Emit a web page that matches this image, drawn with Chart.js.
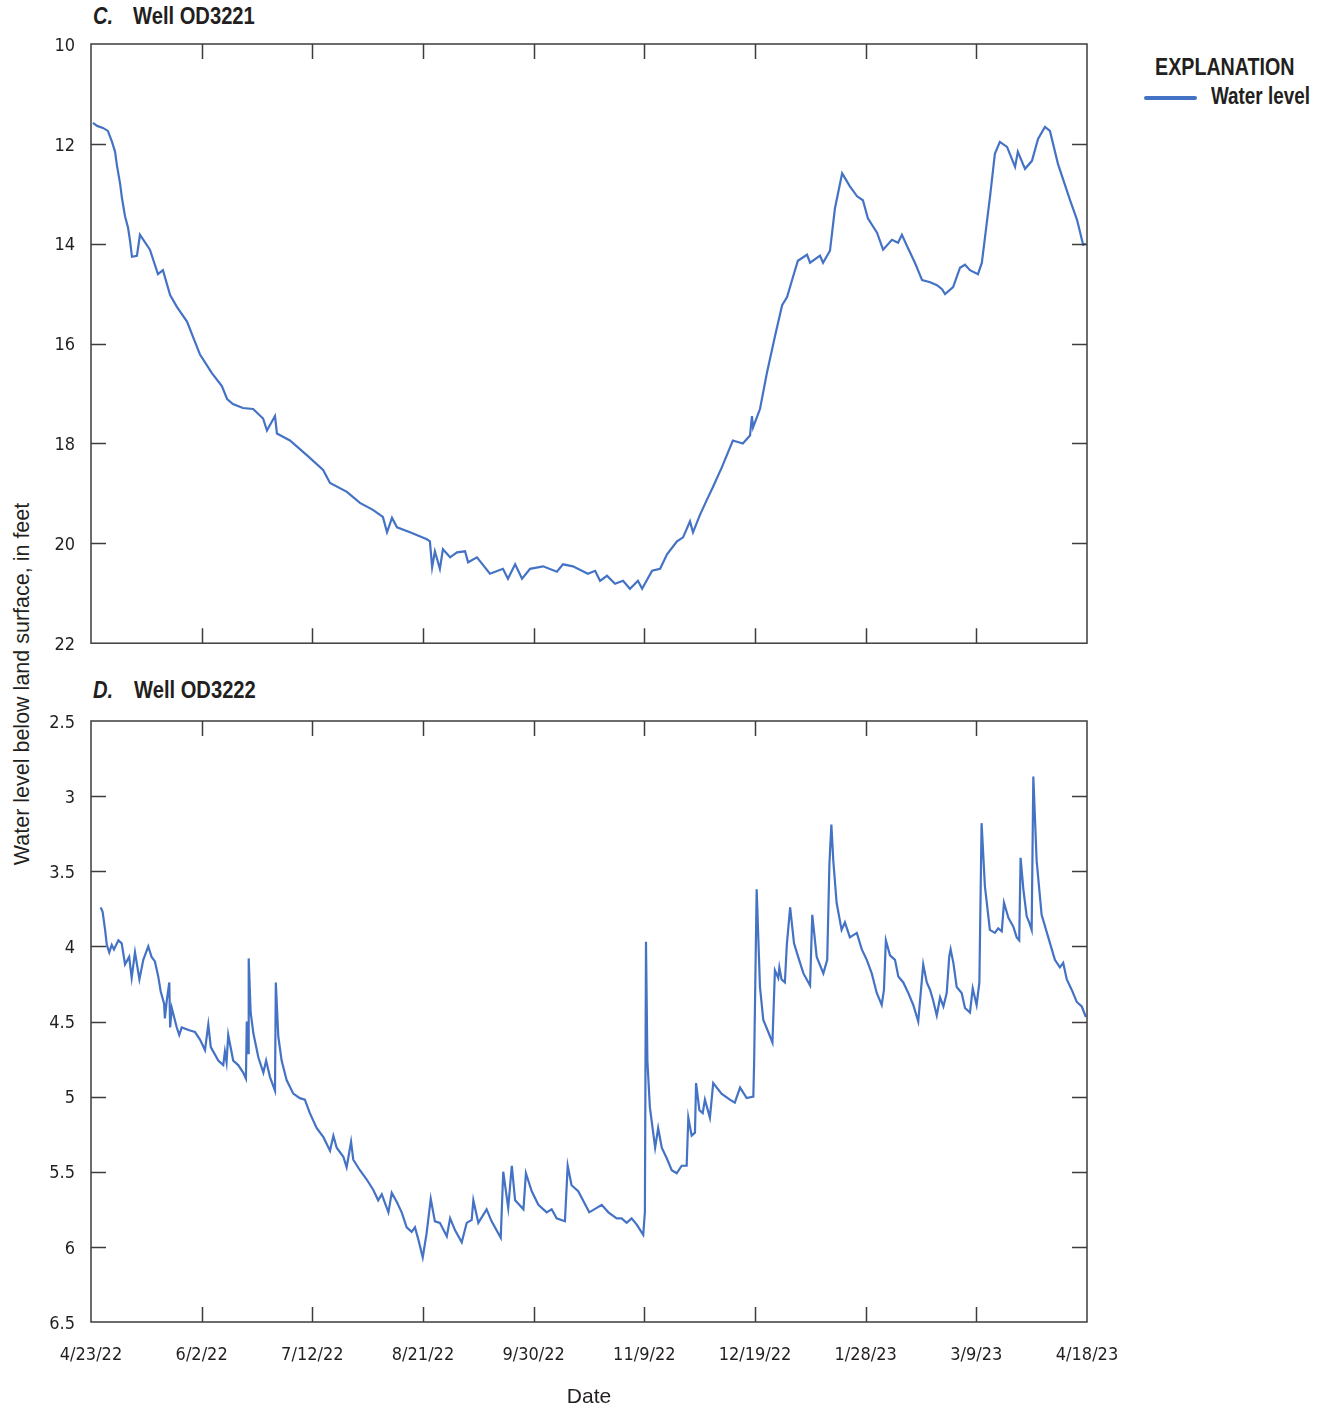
<!DOCTYPE html>
<html>
<head>
<meta charset="utf-8">
<script src="https://cdn.jsdelivr.net/npm/chart.js@4.4.1/dist/chart.umd.min.js"></script>
<style>
  body { margin:0; background:#fff; width:1325px; height:1412px; position:relative; overflow:hidden;
         font-family:'Liberation Sans',Arial,sans-serif; color:#231f20; }
  canvas { position:absolute; left:0; }
  .t { position:absolute; white-space:nowrap; font-weight:bold; transform-origin:0 50%; }
  .ptl { font-size:24px; line-height:24px; transform:scaleX(0.84); }
  .ital { font-style:italic; }
  #ytitle { position:absolute; left:22px; top:684px; transform:translate(-50%,-50%) rotate(-90deg);
            font-family:'Liberation Sans',Arial,sans-serif; font-size:21.5px; white-space:nowrap; }
  #legline { position:absolute; left:1144px; top:96px; width:53px; height:4px; background:#4472c4; border-radius:2px; }
</style>
</head>
<body>
<div class="t ptl ital" style="left:93px;top:4px;">C.</div>
<div class="t ptl" style="left:133px;top:4px;">Well OD3221</div>
<div class="t ptl ital" style="left:93px;top:678px;">D.</div>
<div class="t ptl" style="left:134px;top:678px;">Well OD3222</div>
<div class="t" style="left:1155px;top:55px;font-size:24px;line-height:24px;transform:scaleX(0.82);">EXPLANATION</div>
<div id="legline"></div>
<div class="t" style="left:1211px;top:85px;font-size:23px;line-height:23px;transform:scaleX(0.82);">Water level</div>
<div id="ytitle">Water level below land surface, in feet</div>

<canvas id="cC" width="1325" height="670" style="top:0;"></canvas>
<canvas id="cD" width="1325" height="742" style="top:670px;"></canvas>

<script>
// ---- data (x = days since 4/23/22) ----
const xTickDays = [0, 40, 80, 120, 160, 200, 240, 280, 320, 360];
const xTickLabels = ['4/23/22', '6/2/22', '7/12/22', '8/21/22', '9/30/22', '11/9/22', '12/19/22', '1/28/23', '3/9/23', '4/18/23'];

const yTicksC = [10, 12, 14, 16, 18, 20, 22];
const yTicksD = [2.5, 3, 3.5, 4, 4.5, 5, 5.5, 6, 6.5];

const daysC = [
  0.7, 2.2, 4.3, 6.1, 7.6, 8.7, 9.4, 10.5, 11.2, 12.3,
  13.4, 14.1, 14.8, 16.6, 17.7, 21.3, 24.2, 26.0, 28.6, 31.1,
  34.7, 39.4, 43.7, 47.3, 49.2, 51.3, 54.9, 58.6, 62.2, 63.6,
  66.5, 67.2, 71.9, 78.1, 83.9, 86.4, 92.5, 97.2, 101.9, 105.5,
  107.0, 108.8, 110.6, 115.3, 121.4, 122.5, 123.3, 124.3, 126.1, 127.2,
  129.8, 132.3, 135.2, 136.3, 139.5, 144.2, 148.9, 150.7, 153.3, 155.8,
  158.7, 163.4, 168.4, 170.6, 174.2, 179.6, 182.2, 184.0, 186.5, 189.4,
  192.3, 194.8, 197.7, 199.2, 202.8, 205.7, 208.2, 211.8, 214.0, 216.5,
  217.6, 220.1, 222.6, 224.8, 228.0, 232.0, 235.6, 238.2, 238.9, 239.3,
  241.8, 244.3, 247.2, 249.8, 251.6, 253.7, 255.5, 258.8, 259.9, 263.5,
  264.6, 267.1, 268.9, 271.5, 274.3, 276.9, 279.0, 280.8, 284.1, 286.3,
  289.5, 291.7, 293.1, 294.9, 297.8, 300.4, 303.3, 305.8, 307.6, 308.7,
  311.6, 314.1, 315.9, 317.7, 320.6, 322.0, 325.0, 326.7, 328.5, 331.1,
  334.0, 335.0, 337.6, 340.1, 342.3, 344.8, 346.6, 349.5, 353.9, 356.4,
  358.6, 359.6
];
const levelC = [
  11.58, 11.64, 11.68, 11.74, 11.96, 12.16, 12.44, 12.79, 13.09, 13.45,
  13.68, 13.94, 14.26, 14.24, 13.82, 14.12, 14.61, 14.53, 15.03, 15.27,
  15.56, 16.22, 16.59, 16.85, 17.11, 17.21, 17.29, 17.31, 17.50, 17.74,
  17.45, 17.80, 17.94, 18.24, 18.53, 18.79, 18.97, 19.19, 19.33, 19.47,
  19.78, 19.49, 19.68, 19.78, 19.92, 19.96, 20.48, 20.16, 20.51, 20.12,
  20.28, 20.18, 20.16, 20.38, 20.28, 20.61, 20.51, 20.71, 20.42, 20.71,
  20.51, 20.46, 20.57, 20.42, 20.46, 20.61, 20.55, 20.75, 20.65, 20.81,
  20.75, 20.91, 20.75, 20.91, 20.55, 20.51, 20.22, 19.96, 19.88, 19.56,
  19.78, 19.43, 19.13, 18.87, 18.48, 17.94, 18.00, 17.84, 17.45, 17.68,
  17.31, 16.59, 15.86, 15.23, 15.07, 14.67, 14.34, 14.22, 14.38, 14.24,
  14.38, 14.14, 13.29, 12.59, 12.85, 13.05, 13.13, 13.49, 13.78, 14.12,
  13.92, 13.98, 13.82, 14.04, 14.38, 14.73, 14.77, 14.83, 14.91, 15.01,
  14.87, 14.48, 14.42, 14.53, 14.61, 14.38, 13.03, 12.20, 11.96, 12.06,
  12.46, 12.16, 12.50, 12.34, 11.90, 11.66, 11.74, 12.40, 13.13, 13.52,
  14.02, 14.00
];

const daysD = [
  3.5, 4.2, 5.1, 5.7, 6.6, 7.5, 8.3, 9.9, 11.1, 12.3,
  13.8, 14.7, 15.9, 17.5, 18.9, 20.7, 21.9, 23.1, 24.3, 25.2,
  26.4, 26.7, 27.4, 28.3, 28.6, 29.2, 31.0, 31.9, 32.8, 35.8,
  37.6, 39.4, 41.2, 42.4, 43.3, 46.0, 47.8, 48.4, 49.0, 49.6,
  51.4, 53.2, 55.0, 56.0, 56.3, 56.9, 57.0, 57.7, 58.7, 60.5,
  62.3, 63.3, 64.7, 66.5, 66.8, 67.7, 68.9, 70.7, 73.1, 75.5,
  77.3, 79.1, 81.6, 84.0, 86.4, 87.6, 88.8, 91.2, 92.4, 94.0,
  94.8, 97.2, 99.6, 102.0, 103.8, 105.1, 107.5, 108.7, 110.5, 112.3,
  114.1, 115.9, 117.1, 118.3, 119.9, 121.3, 122.8, 124.3, 126.1, 128.6,
  129.8, 131.6, 134.0, 135.8, 137.6, 138.2, 140.0, 143.0, 144.8, 148.1,
  149.0, 150.8, 152.1, 153.3, 156.3, 157.2, 159.3, 161.7, 164.7, 166.5,
  168.3, 171.3, 172.3, 173.7, 176.1, 180.1, 184.6, 187.0, 190.0, 191.8,
  193.6, 195.4, 197.2, 199.6, 200.2, 200.6, 201.1, 202.0, 203.9, 205.0,
  206.3, 208.1, 209.9, 211.7, 213.5, 215.3, 215.9, 217.1, 218.3, 218.7,
  219.9, 221.1, 221.9, 223.7, 224.9, 227.9, 230.9, 232.7, 234.6, 237.0,
  239.4, 239.7, 240.6, 241.8, 243.0, 244.8, 246.3, 247.2, 248.4, 248.8,
  249.6, 250.8, 251.5, 252.7, 254.1, 255.6, 257.5, 259.9, 260.7, 262.3,
  264.7, 266.1, 266.9, 267.6, 268.3, 269.5, 271.3, 272.5, 274.3, 276.8,
  278.6, 280.4, 282.2, 284.0, 285.8, 286.6, 287.3, 288.8, 290.6, 291.8,
  293.6, 295.4, 297.2, 299.0, 300.8, 302.1, 303.3, 304.4, 305.7, 306.9,
  308.1, 309.3, 310.2, 310.7, 311.7, 312.9, 314.7, 315.9, 317.7, 318.7,
  320.1, 321.1, 321.9, 323.1, 324.9, 326.7, 327.9, 329.2, 330.0, 331.6,
  333.4, 334.6, 335.5, 336.0, 337.0, 338.2, 339.1, 340.0, 340.6, 341.8,
  343.6, 346.0, 348.4, 350.2, 351.4, 352.7, 354.5, 356.3, 358.1, 359.6
];
const levelD = [
  3.74, 3.77, 3.89, 3.99, 4.04, 3.99, 4.02, 3.96, 3.98, 4.12,
  4.07, 4.21, 4.04, 4.22, 4.09, 4.00, 4.07, 4.10, 4.20, 4.30,
  4.38, 4.48, 4.36, 4.24, 4.54, 4.41, 4.54, 4.59, 4.54, 4.56,
  4.57, 4.62, 4.69, 4.52, 4.67, 4.76, 4.79, 4.70, 4.77, 4.59,
  4.76, 4.79, 4.84, 4.88, 4.50, 4.71, 4.08, 4.44, 4.58, 4.74,
  4.84, 4.76, 4.87, 4.96, 4.24, 4.60, 4.76, 4.89, 4.98, 5.01,
  5.02, 5.11, 5.21, 5.27, 5.36, 5.26, 5.34, 5.40, 5.47, 5.30,
  5.42, 5.49, 5.55, 5.62, 5.69, 5.65, 5.77, 5.64, 5.70, 5.77,
  5.87, 5.90, 5.87, 5.95, 6.07, 5.91, 5.68, 5.83, 5.84, 5.93,
  5.81, 5.89, 5.97, 5.84, 5.82, 5.69, 5.84, 5.75, 5.83, 5.94,
  5.50, 5.74, 5.46, 5.69, 5.75, 5.51, 5.63, 5.72, 5.77, 5.75,
  5.81, 5.83, 5.46, 5.59, 5.63, 5.77, 5.72, 5.77, 5.81, 5.81,
  5.84, 5.81, 5.85, 5.92, 5.77, 3.97, 4.76, 5.07, 5.34, 5.21,
  5.34, 5.41, 5.49, 5.51, 5.46, 5.46, 5.14, 5.26, 5.24, 4.91,
  5.09, 5.11, 5.02, 5.14, 4.91, 4.98, 5.02, 5.04, 4.94, 5.01,
  5.00, 4.76, 3.62, 4.27, 4.49, 4.57, 4.64, 4.16, 4.21, 4.14,
  4.22, 4.24, 3.99, 3.74, 3.98, 4.07, 4.18, 4.26, 3.79, 4.07,
  4.18, 4.09, 3.45, 3.19, 3.43, 3.71, 3.89, 3.84, 3.94, 3.91,
  4.02, 4.09, 4.18, 4.31, 4.39, 4.29, 3.96, 4.06, 4.09, 4.20,
  4.24, 4.31, 4.39, 4.50, 4.12, 4.24, 4.29, 4.36, 4.46, 4.34,
  4.40, 4.31, 4.07, 4.02, 4.11, 4.27, 4.31, 4.41, 4.44, 4.28,
  4.39, 4.24, 3.18, 3.60, 3.89, 3.91, 3.88, 3.90, 3.71, 3.81,
  3.87, 3.94, 3.96, 3.41, 3.62, 3.80, 3.84, 3.89, 2.87, 3.43,
  3.79, 3.94, 4.09, 4.14, 4.11, 4.22, 4.29, 4.37, 4.40, 4.47
];

// ---- styling ----
const LINE = '#4472c4';
const AXIS = '#3d3d3d';
const TXT = '#231f20';
const NARROW = "'DejaVu Sans Condensed','Liberation Sans',sans-serif";
const REG = "'Liberation Sans',Arial,sans-serif";

const framePlugin = {
  id: 'frame',
  afterDatasetsDraw(chart) {
    const { ctx, chartArea: a, scales: { x, y } } = chart;
    ctx.save();
    ctx.strokeStyle = AXIS;
    ctx.lineWidth = 1.5;
    ctx.beginPath();
    const L = 15;
    x.ticks.forEach(t => {
      const px = Math.round(x.getPixelForValue(t.value)) + 0.5;
      if (px <= a.left + 2 || px >= a.right - 2) return;
      ctx.moveTo(px, a.top); ctx.lineTo(px, a.top + L);
      ctx.moveTo(px, a.bottom); ctx.lineTo(px, a.bottom - L);
    });
    y.ticks.forEach(t => {
      const py = Math.round(y.getPixelForValue(t.value)) + 0.5;
      if (py <= a.top + 2 || py >= a.bottom - 2) return;
      ctx.moveTo(a.left, py); ctx.lineTo(a.left + L, py);
      ctx.moveTo(a.right, py); ctx.lineTo(a.right - L, py);
    });
    ctx.stroke();
    ctx.strokeRect(a.left, a.top, a.right - a.left, a.bottom - a.top);
    ctx.restore();
  }
};

function makeChart(id, days, levels, yTicks, yMin, yMax, opts) {
  const data = days.map((d, i) => ({ x: d, y: levels[i] }));
  return new Chart(document.getElementById(id), {
    type: 'line',
    data: { datasets: [{ label: 'Water level', data, borderColor: LINE, borderWidth: 2.2,
                         pointRadius: 0, tension: 0, fill: false }] },
    options: {
      responsive: false, animation: false, devicePixelRatio: 1,
      layout: { padding: { left: 0, top: opts.padTop, right: 238, bottom: opts.padBottom } },
      plugins: { legend: { display: false }, tooltip: { enabled: false } },
      scales: {
        x: {
          type: 'linear', min: 0, max: 360,
          afterBuildTicks: s => { s.ticks = xTickDays.map(v => ({ value: v })); },
          afterFit: s => { s.height = opts.xHeight; },
          ticks: { display: opts.showX, padding: 23, color: TXT, maxRotation: 0, autoSkip: false,
                   font: { family: NARROW, size: 18 },
                   callback: (v, i) => xTickLabels[i] },
          grid: { display: false, drawTicks: false },
          border: { display: false },
          title: { display: opts.showX, text: 'Date', color: TXT,
                   font: { family: REG, size: 21 }, padding: { top: 0, bottom: 2 } }
        },
        y: {
          type: 'linear', reverse: true, min: yMin, max: yMax,
          afterBuildTicks: s => { s.ticks = yTicks.map(v => ({ value: v })); },
          afterFit: s => { s.width = 91; },
          ticks: { padding: 16, labelOffset: 2, color: TXT, font: { family: NARROW, size: 18 },
                   callback: (v, i) => String(yTicks[i]) },
          grid: { display: false, drawTicks: false },
          border: { display: false }
        }
      }
    },
    plugins: [framePlugin]
  });
}

makeChart('cC', daysC, levelC, yTicksC, 10, 22, { padTop: 44, padBottom: 20, xHeight: 0, showX: false });
makeChart('cD', daysD, levelD, yTicksD, 2.5, 6.5, { padTop: 51, padBottom: 0, xHeight: 90, showX: true });
</script>
</body>
</html>
